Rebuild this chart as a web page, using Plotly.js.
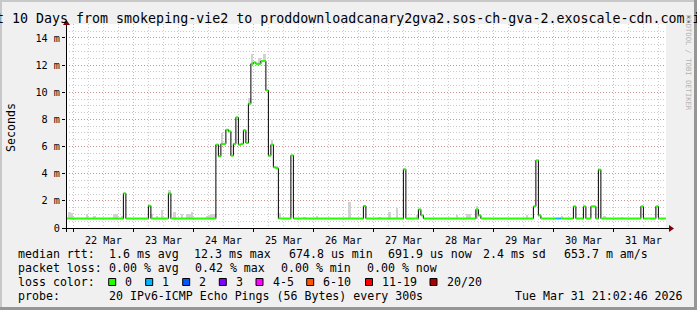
<!DOCTYPE html>
<html><head><meta charset="utf-8">
<script src="https://cdn.plot.ly/plotly-3.0.1.min.js"></script>
<style>html,body{margin:0;padding:0;background:#f0f0f0;}#chart{width:697px;height:310px;}</style>
</head><body><div id="chart"></div>
<script>
// ---------------- data ----------------
const rangeStart = '2026-03-21 21:02:46';
const rangeEnd   = '2026-03-31 21:02:46';

// median RTT (milliseconds), step changes
const medTime = ['2026-03-21 21:02:46','2026-03-22 20:00','2026-03-22 21:00','2026-03-23 06:00','2026-03-23 07:00',
 '2026-03-23 14:00','2026-03-23 15:00','2026-03-24 09:00','2026-03-24 10:00','2026-03-24 11:00','2026-03-24 13:00',
 '2026-03-24 14:00','2026-03-24 15:00','2026-03-24 16:00','2026-03-24 17:00','2026-03-24 18:00','2026-03-24 19:00',
 '2026-03-24 20:00','2026-03-24 21:00','2026-03-24 22:00','2026-03-24 23:00','2026-03-25 00:00','2026-03-25 01:00',
 '2026-03-25 03:00','2026-03-25 05:00','2026-03-25 06:00','2026-03-25 07:00','2026-03-25 08:00','2026-03-25 09:00',
 '2026-03-25 10:00','2026-03-25 15:00','2026-03-25 16:00','2026-03-26 20:00','2026-03-26 21:00','2026-03-27 12:00',
 '2026-03-27 13:00','2026-03-27 18:00','2026-03-27 19:00','2026-03-27 20:00','2026-03-28 17:00','2026-03-28 18:00',
 '2026-03-28 19:00','2026-03-29 16:00','2026-03-29 17:00','2026-03-29 18:00','2026-03-29 19:00','2026-03-30 01:00',
 '2026-03-30 03:00','2026-03-30 08:00','2026-03-30 09:00','2026-03-30 12:00','2026-03-30 13:00','2026-03-30 15:00',
 '2026-03-30 17:00','2026-03-30 18:00','2026-03-30 19:00','2026-03-31 11:00','2026-03-31 12:00','2026-03-31 17:00',
 '2026-03-31 18:00'];
const medValue = [0.70,2.55,0.70,1.64,0.70,
 2.55,0.70,6.14,5.28,6.20,7.24,
 7.12,5.33,6.20,8.15,6.14,6.20,
 7.20,6.26,9.16,12.10,12.20,12.10,
 12.30,10.14,5.33,6.14,4.47,4.40,
 0.70,5.35,0.70,1.62,0.70,4.32,
 0.70,1.37,0.93,0.70,1.37,0.93,
 0.70,1.59,4.98,0.93,0.70,0.70,
 0.70,1.59,0.70,1.59,0.70,1.59,
 0.70,4.30,0.70,1.59,0.70,1.59,
 0.70];
const medLoss = medValue.map(()=>0);
medLoss[46] = 1; // 2026-03-30 01:00 - 03:00 one lost ping

// smoke (spread of the pings), 1 hour bins: start, low, high (ms)
const smokeTime = ['2026-03-21 22:00','2026-03-21 23:00','2026-03-22 05:00','2026-03-22 08:00','2026-03-22 16:00',
 '2026-03-22 17:00','2026-03-22 19:00','2026-03-23 07:00','2026-03-23 09:00','2026-03-23 11:00','2026-03-23 14:00',
 '2026-03-23 16:00','2026-03-23 19:00','2026-03-23 21:00','2026-03-23 22:00','2026-03-23 23:00','2026-03-24 05:00',
 '2026-03-24 06:00','2026-03-24 07:00','2026-03-24 08:00','2026-03-24 11:00','2026-03-24 22:00','2026-03-24 23:00',
 '2026-03-25 02:00','2026-03-25 04:00','2026-03-25 07:00','2026-03-25 09:00','2026-03-25 10:00','2026-03-25 20:00',
 '2026-03-26 01:00','2026-03-26 14:00','2026-03-27 02:00','2026-03-27 06:00','2026-03-27 09:00','2026-03-27 17:00',
 '2026-03-28 09:00','2026-03-28 13:00','2026-03-28 14:00','2026-03-28 17:00','2026-03-29 13:00','2026-03-30 03:00',
 '2026-03-30 20:00','2026-03-31 03:00'];
const smokeLow = [0.68,0.68,0.68,0.68,0.68,
 0.68,0.68,0.68,0.68,0.68,2.40,
 0.68,0.68,0.68,0.68,0.68,0.68,
 0.68,0.68,0.68,6.20,9.16,12.10,
 12.10,12.30,6.14,4.40,0.68,0.68,
 0.68,0.68,0.68,0.68,0.68,0.68,
 0.68,0.68,0.68,0.68,0.68,0.68,
 0.68,0.68];
const smokeHigh = [1.15,1.10,1.00,0.90,1.05,
 1.05,0.90,1.00,0.90,1.35,2.80,
 1.15,1.05,1.05,1.05,1.20,0.90,
 0.95,1.00,1.00,7.00,9.60,12.85,
 12.50,12.85,6.50,4.60,1.10,0.80,
 0.90,1.89,0.80,1.15,1.47,0.95,
 0.95,1.00,1.00,1.60,0.95,0.90,
 0.85,0.80];

const yTickVals = [0,2,4,6,8,10,12,14];
const yTickText = ['0','2 m','4 m','6 m','8 m','10 m','12 m','14 m'];

const titleText = 'Last 10 Days from smokeping-vie2 to proddownloadcanary2gva2.sos-ch-gva-2.exoscale-cdn.com:ipv6';
const rttLabel = 'median rtt:';
const rttStats = ['1.6 ms avg','12.3 ms max','674.8 us min','691.9 us now','2.4 ms sd','653.7 m am/s'];
const lossLabel = 'packet loss:';
const lossStats = ['0.00 % avg','0.42 % max','0.00 % min','0.00 % now'];
const colorLabel = 'loss color:';
const lossNames  = ['0','1','2','3','4-5','6-10','11-19','20/20'];
const lossColors = ['#26ff00','#00b8ff','#0059ff','#7e00ff','#ff00ff','#ff5500','#ff0000','#a80000'];
const probeLabel = 'probe:';
const probeText = '20 IPv6-ICMP Echo Pings (56 Bytes) every 300s';
const dateText = 'Tue Mar 31 21:02:46 2026';

// ---------------- geometry helpers (layout only) ----------------
const W=697,H=310,L=66,R=31,T=24,B=82, PW=W-L-R, PH=H-T-B;
const px = x => (x-L)/PW;
const py = y => (H-B-y)/PH;
const FONT = 'DejaVu Sans Mono';

// ---------------- traces ----------------
const traces = [];
traces.push({type:'bar', x:smokeTime, y:smokeHigh.map((h,i)=>h-smokeLow[i]), base:smokeLow,
  width:3600000, offset:0, marker:{color:'#d2d2d2', line:{width:0}}, hoverinfo:'skip'});

const stepX = medTime.concat([rangeEnd]);
const stepY = medValue.concat([medValue[medValue.length-1]]);
traces.push({type:'scatter', mode:'lines', x:stepX, y:stepY, line:{color:'#000', width:1, shape:'hv'}, hoverinfo:'skip'});

for (let c=0;c<lossColors.length;c++){
  const sx=[], sy=[];
  for (let i=0;i<medTime.length;i++){
    if (medLoss[i]!==c) continue;
    const end = i+1<medTime.length ? medTime[i+1] : rangeEnd;
    sx.push(medTime[i], end, null); sy.push(medValue[i], medValue[i], null);
  }
  if (sx.length) traces.push({type:'scatter', mode:'lines', x:sx, y:sy, line:{color:lossColors[c], width:2}, hoverinfo:'skip'});
}

// ---------------- annotations ----------------
const ann = [];
function txt(x,y,t,opt){ ann.push(Object.assign({xref:'paper',yref:'paper',x:px(x),y:py(y),text:t,showarrow:false,
  xanchor:'left',yanchor:'middle',font:{family:FONT,size:11.6,color:'#000'}},opt||{})); }
txt(348.5,18.5,titleText,{xanchor:'center',font:{family:FONT,size:13.3,color:'#000'}});
txt(11,128,'Seconds',{xanchor:'center',textangle:-90});
txt(689,63,'RRDTOOL / TOBI OETIKER',{xanchor:'center',textangle:90,font:{family:FONT,size:7.2,color:'#b4b4b4'}});
const rowY=[254.3,268.3,282.3,296.3];
txt(16,rowY[0],rttLabel);
[107.3,192.3,286.7,386,480.7,561.7].forEach((x,i)=>txt(x,rowY[0],rttStats[i]));
txt(16,rowY[1],lossLabel);
[107.3,193.3,279.3,365].forEach((x,i)=>txt(x,rowY[1],lossStats[i]));
txt(16,rowY[2],colorLabel);
const boxX=[108.7,145.7,182.7,219.3,256,306.7,365.5,430];
boxX.forEach((x,i)=>txt(x+14.6,rowY[2],lossNames[i]));
txt(16,rowY[3],probeLabel);
txt(107.3,rowY[3],probeText);
txt(513.3,rowY[3],dateText);

// ---------------- shapes ----------------
const shapes=[];
function rect(x0,y0,x1,y1,fill,line){ shapes.push({type:'rect',xref:'paper',yref:'paper',x0:px(x0),x1:px(x1),y0:py(y0),y1:py(y1),
  fillcolor:fill,line:line||{width:0},layer:'above'}); }
function path(pts,fill){ shapes.push({type:'path',xref:'paper',yref:'paper',path:'M'+pts.map(p=>px(p[0])+','+py(p[1])).join('L')+'Z',
  fillcolor:fill,line:{width:0},layer:'above'}); }
function line(x0,y0,x1,y1,col){ shapes.push({type:'line',xref:'paper',yref:'paper',x0:px(x0),x1:px(x1),y0:py(y0),y1:py(y1),line:{color:col,width:1},layer:'above'}); }
boxX.forEach((x,i)=>rect(x,278.5,x+7,285.5,lossColors[i],{color:'#000',width:1}));
// axes with arrows
line(62.5,228.5,669,228.5,'#000');
line(66.5,232,66.5,24,'#000');
path([[669,225],[674,228.5],[669,232]],'#7f0000');
path([[63,25],[66.5,20],[70,25]],'#7f0000');
// frame
rect(0,0,697,2,'#c8c8c8'); rect(0,0,2,310,'#c8c8c8');
rect(694,0,697,310,'#969696'); rect(0,307,697,310,'#969696');

const gridMaj='rgba(200,80,80,0.45)', gridMin='rgba(140,140,140,0.45)';
const layout = {
  width:W, height:H, margin:{l:L,r:R,t:T,b:B,pad:0},
  paper_bgcolor:'#f0f0f0', plot_bgcolor:'#ffffff', showlegend:false, bargap:0,
  font:{family:FONT,size:10.2,color:'#000'},
  xaxis:{type:'date', range:[rangeStart,rangeEnd], tick0:'2026-03-22', dtick:86400000, tickformat:'%d %b',
    ticklabelmode:'period', showgrid:true, gridcolor:gridMaj, griddash:'1px,2px', gridwidth:1,
    minor:{dtick:21600000, showgrid:true, gridcolor:gridMin, griddash:'1px,2px', gridwidth:1},
    ticks:'outside', ticklen:3, tickcolor:'#000', showline:false, zeroline:false, fixedrange:true,
    tickfont:{family:FONT,size:10.2,color:'#000'}},
  yaxis:{range:[0,15.03], tickmode:'array', tickvals:yTickVals, ticktext:yTickText, showgrid:true,
    gridcolor:gridMaj, griddash:'1px,2px', gridwidth:1,
    minor:{dtick:0.5, tick0:0, showgrid:true, gridcolor:gridMin, griddash:'1px,2px', gridwidth:1},
    ticks:'outside', ticklen:3, tickcolor:'#000', showline:false, zeroline:false, fixedrange:true,
    tickfont:{family:FONT,size:10.2,color:'#000'}},
  annotations:ann, shapes:shapes
};
Plotly.newPlot('chart', traces, layout, {staticPlot:true, displayModeBar:false});
</script></body></html>
